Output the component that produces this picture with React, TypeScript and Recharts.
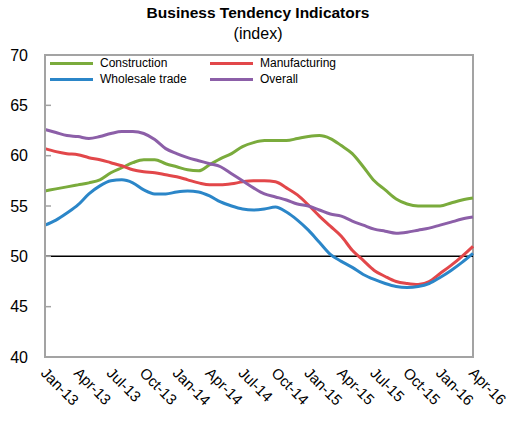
import React from 'react';
import { LineChart, Line, XAxis, YAxis, ReferenceLine, ReferenceArea, Legend } from 'recharts';

const months = [
    'Jan-13', 'Feb-13', 'Mar-13', 'Apr-13', 'May-13', 'Jun-13', 'Jul-13', 'Aug-13', 'Sep-13', 'Oct-13', 'Nov-13', 'Dec-13',
    'Jan-14', 'Feb-14', 'Mar-14', 'Apr-14', 'May-14', 'Jun-14', 'Jul-14', 'Aug-14', 'Sep-14', 'Oct-14', 'Nov-14', 'Dec-14',
    'Jan-15', 'Feb-15', 'Mar-15', 'Apr-15', 'May-15', 'Jun-15', 'Jul-15', 'Aug-15', 'Sep-15', 'Oct-15', 'Nov-15', 'Dec-15',
    'Jan-16', 'Feb-16', 'Mar-16', 'Apr-16',
];

const construction = [
    56.5, 56.7, 56.9, 57.1, 57.3, 57.6, 58.3, 58.8, 59.3, 59.6, 59.6, 59.2,
    58.9, 58.6, 58.5, 59.1, 59.7, 60.2, 60.9, 61.3, 61.5, 61.5, 61.5, 61.7,
    61.9, 62.0, 61.7, 61.0, 60.2, 58.9, 57.5, 56.6, 55.7, 55.2, 55.0, 55.0,
    55.0, 55.3, 55.6, 55.8,
];
const manufacturing = [
    60.7, 60.4, 60.2, 60.1, 59.8, 59.6, 59.3, 59.0, 58.6, 58.4, 58.3, 58.1,
    57.9, 57.6, 57.3, 57.1, 57.1, 57.2, 57.4, 57.5, 57.5, 57.4, 56.8, 56.1,
    55.1, 54.0, 53.0, 52.0, 50.6, 49.6, 48.6, 48.0, 47.5, 47.3, 47.2, 47.5,
    48.3, 49.1, 50.0, 51.0,
];
const wholesale = [
    53.1, 53.6, 54.3, 55.1, 56.2, 57.0, 57.5, 57.6, 57.3, 56.6, 56.2, 56.2,
    56.4, 56.5, 56.4, 56.0, 55.4, 55.0, 54.7, 54.6, 54.7, 54.9, 54.4, 53.6,
    52.6, 51.4, 50.2, 49.5, 48.9, 48.2, 47.7, 47.3, 47.0, 46.9, 47.0, 47.3,
    47.9, 48.6, 49.4, 50.3,
];
const overall = [
    62.6, 62.3, 62.0, 61.9, 61.7, 61.9, 62.2, 62.4, 62.4, 62.2, 61.6, 60.7,
    60.2, 59.8, 59.5, 59.2, 58.9, 58.2, 57.5, 56.8, 56.2, 55.9, 55.6, 55.2,
    55.0, 54.6, 54.2, 54.0, 53.5, 53.1, 52.7, 52.5, 52.3, 52.4, 52.6, 52.8,
    53.1, 53.4, 53.7, 53.9,
];
const yTicks = [40, 45, 50, 55, 60, 65, 70];

const series = [
    { key: 'construction', name: 'Construction', color: '#7aab3c' },
    { key: 'manufacturing', name: 'Manufacturing', color: '#e2474a' },
    { key: 'wholesale', name: 'Wholesale trade', color: '#2b86c8' },
    { key: 'overall', name: 'Overall', color: '#8c5fa8' },
];

const data = months.map((month, i) => ({
    month,
    construction: construction[i],
    manufacturing: manufacturing[i],
    wholesale: wholesale[i],
    overall: overall[i],
}));

const FONT = '"Liberation Sans", Arial, sans-serif';
const AXIS_GREY = '#a3a3a3';

// rotated month labels, reading down to the right
const MonthTick = (props: any) => {
    const { x, y, payload } = props;
    return (
        <text
            x={x - 5}
            y={y + 9}
            transform={`rotate(45, ${x - 5}, ${y + 9})`}
            textAnchor="start"
            fontSize={15}
            fontFamily={FONT}
            fill="#000"
        >
            {payload.value}
        </text>
    );
};

// two-column legend in series order (recharts sorts by name otherwise)
const LegendBox = (props: any) => {
    const payload = props.payload || [];
    const items = series.map(s => payload.find((p: any) => p.value === s.name) || { value: s.name, color: s.color });
    return (
        <div style={{ display: 'grid', gridTemplateColumns: '160px 140px', fontFamily: FONT }}>
            {items.map((p: any) => (
                <div key={p.value} style={{ display: 'flex', alignItems: 'center', height: 16 }}>
                    <span style={{ display: 'inline-block', width: 43, height: 3, background: p.color, marginRight: 7 }} />
                    <span style={{ fontSize: 12, color: '#000', lineHeight: '16px' }}>{p.value}</span>
                </div>
            ))}
        </div>
    );
};

const App: React.FC = () => {
    return (
        <div style={{ position: 'absolute', left: 0, top: 0, width: 511, height: 422, background: '#fff', fontFamily: FONT }}>
            <div style={{ position: 'absolute', left: 0, width: 516, top: 4, textAlign: 'center', fontSize: 15.5, fontWeight: 'bold', color: '#000' }}>
                Business Tendency Indicators
            </div>
            <div style={{ position: 'absolute', left: 0, width: 516, top: 25, textAlign: 'center', fontSize: 16, color: '#000' }}>
                (index)
            </div>
            <LineChart
                width={511}
                height={422}
                data={data}
                margin={{ top: 55, right: 38, left: 0, bottom: 0 }}
            >
                <ReferenceArea y1={40} y2={70} fill="none" stroke={AXIS_GREY} strokeWidth={2} ifOverflow="extendDomain" />
                <XAxis
                    dataKey="month"
                    interval={2}
                    height={65}
                    axisLine={{ stroke: AXIS_GREY, strokeWidth: 2 }}
                    tickLine={false}
                    tick={<MonthTick />}
                />
                <YAxis
                    domain={[40, 70]}
                    ticks={yTicks}
                    width={45}
                    axisLine={{ stroke: AXIS_GREY, strokeWidth: 2 }}
                    tickLine={{ stroke: AXIS_GREY, strokeWidth: 1.5 }}
                    tickSize={-6}
                    tickMargin={23}
                    tick={{ fontSize: 16, fill: '#000', fontFamily: FONT }}
                />
                <ReferenceLine y={50} stroke="#000" strokeWidth={1.5} />
                <Legend
                    layout="horizontal"
                    verticalAlign="middle"
                    align="center"
                    content={<LegendBox />}
                    wrapperStyle={{ top: 55, left: 50, width: 310 }}
                />
                {series.map(s => (
                    <Line
                        key={s.key}
                        type="monotone"
                        dataKey={s.key}
                        name={s.name}
                        stroke={s.color}
                        strokeWidth={3}
                        dot={false}
                        activeDot={false}
                        isAnimationActive={false}
                    />
                ))}
            </LineChart>
        </div>
    );
};

export default App;
